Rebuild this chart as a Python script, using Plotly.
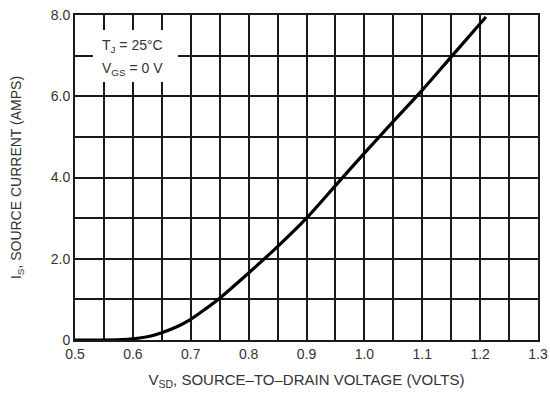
import plotly.graph_objects as go

# Source-drain diode forward characteristic, TJ = 25 °C, VGS = 0 V
vsd_volts = [0.50, 0.55, 0.58, 0.60, 0.625, 0.65, 0.675, 0.70, 0.725, 0.75,
             0.80, 0.85, 0.90, 0.95, 1.00, 1.05, 1.10, 1.15, 1.21]
is_amps = [0.0, 0.0, 0.01, 0.03, 0.08, 0.18, 0.32, 0.51, 0.76, 1.03,
           1.65, 2.3, 3.0, 3.8, 4.6, 5.38, 6.15, 6.97, 7.95]

x_tick_vals = [0.5, 0.6, 0.7, 0.8, 0.9, 1.0, 1.1, 1.2, 1.3]
x_tick_text = ["0.5", "0.6", "0.7", "0.8", "0.9", "1.0", "1.1", "1.2", "1.3"]
y_tick_vals = [0, 2, 4, 6, 8]
y_tick_text = ["0", "2.0", "4.0", "6.0", "8.0"]

FONT = "Arial, Liberation Sans, sans-serif"
TEXT = "#333333"
GRID = "#1a1a1a"
SIZE = 14

fig = go.Figure()
fig.add_trace(go.Scatter(
    x=vsd_volts, y=is_amps, mode="lines",
    line=dict(color="#000000", width=3.2, shape="spline", smoothing=0.8),
    hoverinfo="skip", showlegend=False,
))

axis_common = dict(
    showgrid=True, gridcolor=GRID, gridwidth=1.6,
    showline=True, linecolor=GRID, linewidth=1.8, mirror=True,
    zeroline=False, ticks="", automargin=False,
    tickfont=dict(family=FONT, size=SIZE, color=TEXT),
)

fig.update_xaxes(
    range=[0.5, 1.3], tickmode="array", tickvals=x_tick_vals, ticktext=x_tick_text,
    minor=dict(dtick=0.05, tick0=0.5, showgrid=True, gridcolor=GRID, gridwidth=1.6),
    title=dict(text="V<sub>SD</sub>, SOURCE\u2013TO\u2013DRAIN VOLTAGE (VOLTS)",
               font=dict(family=FONT, size=15, color=TEXT), standoff=14),
    **axis_common,
)
fig.update_yaxes(
    range=[0, 8], tickmode="array", tickvals=y_tick_vals, ticktext=y_tick_text,
    minor=dict(dtick=1, tick0=0, showgrid=True, gridcolor=GRID, gridwidth=1.6),
    title=dict(text="I<sub>S</sub>, SOURCE CURRENT (AMPS)",
               font=dict(family=FONT, size=SIZE, color=TEXT), standoff=26),
    **axis_common,
)

# White panel behind the test-condition note
fig.add_shape(type="rect", xref="x", yref="y",
              x0=0.531, x1=0.678, y0=6.35, y1=7.63,
              fillcolor="white", line=dict(width=0), layer="above")
fig.add_annotation(
    xref="x", yref="y", x=0.600, y=7.24, showarrow=False,
    text="T<sub>J</sub> = 25\u00b0C",
    font=dict(family=FONT, size=SIZE, color=TEXT),
)
fig.add_annotation(
    xref="x", yref="y", x=0.600, y=6.68, showarrow=False,
    text="V<sub>GS</sub> = 0 V",
    font=dict(family=FONT, size=SIZE, color=TEXT),
)

fig.update_layout(
    width=550, height=393,
    margin=dict(l=75, r=12, t=15, b=53),
    paper_bgcolor="white", plot_bgcolor="white",
)

fig.write_html("out.html")
